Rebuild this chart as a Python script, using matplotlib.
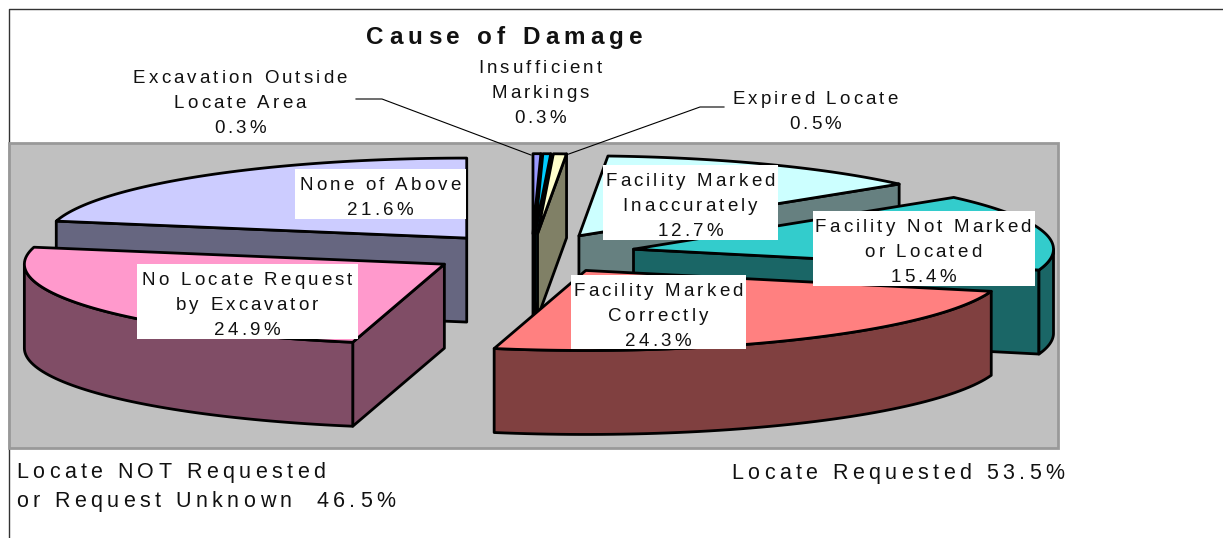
import numpy as np
import matplotlib
matplotlib.use("Agg")
import matplotlib.pyplot as plt
from matplotlib.patches import Polygon, Rectangle
from matplotlib.text import Text
from matplotlib.font_manager import findfont, get_font
from matplotlib.ft2font import LoadFlags
from matplotlib.transforms import Bbox

# ---- data (clockwise from 12 o'clock) ----
causes = ["Excavation Outside\nLocate Area", "Insufficient\nMarkings", "Expired Locate",
          "Facility Marked\nInaccurately", "Facility Not Marked\nor Located",
          "Facility Marked\nCorrectly", "No Locate Request\nby Excavator", "None of Above"]
shares = [0.3, 0.3, 0.5, 12.7, 15.4, 24.3, 24.9, 21.6]
title_text = "Cause of Damage"
group_left = "Locate NOT Requested\nor Request Unknown  46.5%"
group_right = "Locate Requested 53.5%"

# ---- styles ----
top_colors = ["#9999FF", "#00CCFF", "#FFFFCC", "#CCFFFF", "#33CCCC", "#FF8080", "#FF99CC", "#CCCCFF"]
wall_colors = ["#4D4D80", "#006680", "#808066", "#668080", "#1A6666", "#804040", "#804D66", "#666680"]
draw_order = [7, 0, 1, 2, 3, 4, 6, 5]
CX, CY, RX, RY, EXPLODE, DEPTH = 532, 253.5, 420, 80, 104, 84
EDGE = 2.0
FONT = "Liberation Sans"


class TrackedText(Text):
    """Real text artist that draws with letter spacing (px) and fixed line step (px)."""
    def __init__(self, *args, tracking=0.0, step=25.0, **kw):
        super().__init__(*args, **kw)
        self.tracking, self.step = tracking, step

    def _advances(self, line, dpi):
        font = get_font(findfont(self.get_fontproperties()))
        font.set_size(self.get_fontsize(), dpi)
        return [font.load_char(ord(c), flags=LoadFlags.NO_HINTING).linearHoriAdvance / 65536 + self.tracking
                for c in line]

    def get_window_extent(self, renderer=None, dpi=None):
        d = dpi or self.figure.dpi
        x, y = self.get_transform().transform(self.get_unitless_position())
        lines = self.get_text().split("\n")
        w = max(sum(self._advances(l, d)) for l in lines)
        hh = self.step * len(lines) / 2
        x0 = x - w / 2 if self.get_ha() == "center" else x
        return Bbox([[x0, y - hh], [x0 + w, y + hh]])

    def draw(self, renderer):
        if not self.get_visible():
            return
        x, y = self.get_transform().transform(self.get_unitless_position())
        gc = renderer.new_gc()
        gc.set_foreground(self.get_color())
        gc.set_antialiased(True)
        prop = self.get_fontproperties()
        size_px = self.get_fontsize() * self.figure.dpi / 72
        h = renderer.get_canvas_width_height()[1]
        lines = self.get_text().split("\n")
        for i, line in enumerate(lines):
            adv = self._advances(line, self.figure.dpi)
            total = sum(adv) - self.tracking
            px = x - total / 2 if self.get_ha() == "center" else x
            base = y + self.step * (len(lines) - 1) / 2 - i * self.step - 0.36 * size_px + 1
            for ch, a in zip(line, adv):
                if ch != " ":
                    renderer.draw_text(gc, px, h - base if renderer.flipy() else base, ch, prop, 0,
                                       ismath=False, mtext=None)
                px += a
        gc.restore()


def add_text(ax, x, y, s, size, tracking, step, ha="center", weight="normal"):
    # y is the centre of the first line; the artist is anchored at the block's centre
    yc = y + step * s.count("\n") / 2
    t = TrackedText(x, yc, s, tracking=tracking, step=step, fontsize=size, ha=ha, va="center",
                    family=FONT, weight=weight, color="#111111", zorder=20, linespacing=1.0)
    ax.add_artist(t)
    return t


def arc(ax0, ay0, a, b, n=60):
    th = np.radians(np.linspace(a, b, n))
    return np.column_stack([ax0 + RX * np.sin(th), ay0 - RY * np.cos(th)])


fig = plt.figure(figsize=(12.23, 5.38), dpi=100)
ax = fig.add_axes([0, 0, 1, 1])
ax.set_xlim(0, 1223)
ax.set_ylim(538, 0)
ax.axis("off")

# frame and plot area
ax.plot([9, 9, 1223], [538, 9, 9], color="#333333", lw=1.0, zorder=1)
ax.add_patch(Rectangle((9, 143), 1049, 305, fc="#C0C0C0", ec="#999999", lw=2.0, zorder=2))

# exploded 3-D pie
fracs = np.array(shares) / sum(shares) * 360
edges = np.concatenate([[0], np.cumsum(fracs)])
z = 3.0
down = np.array([0, DEPTH])
for i in draw_order:
    a, b = edges[i], edges[i + 1]
    mid = np.radians((a + b) / 2)
    ox, oy = CX + EXPLODE * np.sin(mid), CY - EXPLODE * RY / RX * np.cos(mid)
    apex = np.array([ox, oy])
    style = dict(fc=wall_colors[i], ec="black", lw=EDGE, joinstyle="round", zorder=z)
    # radial walls that face the viewer
    for ang, visible in ((a, np.sin(np.radians(a)) < -1e-9), (b, np.sin(np.radians(b)) > 1e-9)):
        if visible:
            p = arc(ox, oy, ang, ang, 1)[0]
            ax.add_patch(Polygon([apex, p, p + down, apex + down], closed=True, **style))
    # outer wall on the front half
    lo, hi = max(a, 90), min(b, 270)
    if lo < hi:
        rim = arc(ox, oy, lo, hi)
        ax.add_patch(Polygon(np.vstack([rim, (rim + down)[::-1]]), closed=True, **style))
    # top face
    ax.add_patch(Polygon(np.vstack([apex, arc(ox, oy, a, b)]), closed=True, fc=top_colors[i],
                         ec="black", lw=EDGE, joinstyle="round", zorder=z + 0.1))
    z += 1

# leader lines
leader = dict(color="black", lw=0.8, zorder=15)
ax.plot([356, 382, 531], [99, 99, 155], **leader)
ax.plot([566, 700, 724], [155, 107, 107], **leader)

# labels: (index, centre x, first line centre y, white box)
label_layout = [
    (0, 240, 77, None),
    (1, 540, 67, None),
    (2, 815, 98, None),
    (3, 690, 180, (603, 165, 175, 75)),
    (4, 923, 226, (813, 211, 222, 75)),
    (5, 658, 290, (571, 275, 175, 74)),
    (6, 247, 279, (137, 264, 221, 75)),
    (7, 380, 184, (295, 169, 171, 50)),
]
for i, x, y, box in label_layout:
    if box is not None:
        ax.add_patch(Rectangle(box[:2], box[2], box[3], fc="white", ec="none", zorder=14))
    add_text(ax, x, y, f"{causes[i]}\n{shares[i]:.1f}%", 13.5, 3.1, 25)

add_text(ax, 504.5, 36, title_text, 17.5, 5.2, 25, weight="bold")
add_text(ax, 16, 471, group_left, 15.5, 4.4, 29, ha="left")
add_text(ax, 731, 472, group_right, 15.5, 4.4, 29, ha="left")

fig.savefig("out.png", dpi=100)
